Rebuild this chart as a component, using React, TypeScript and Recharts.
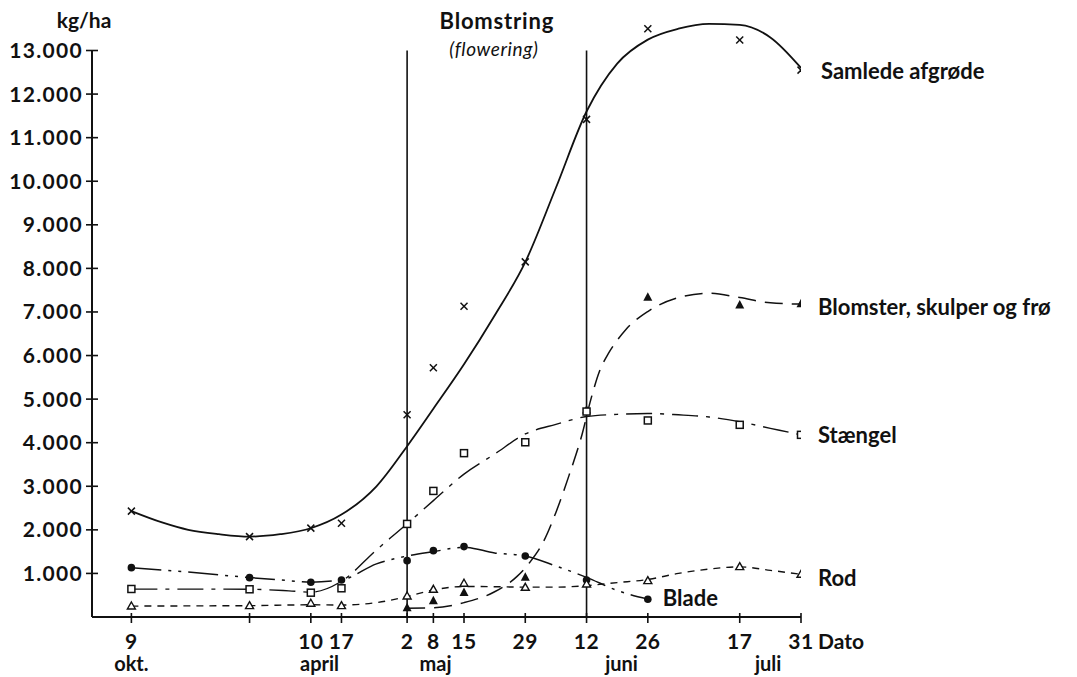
import React from "react";
import { ComposedChart, Line, XAxis, YAxis, ReferenceLine, ReferenceArea } from "recharts";

// x = days counted from 10 April (the winter is squeezed on the original axis)
const tickDays = [-41, -14, 0, 7, 22, 28, 35, 49, 63, 77, 98, 112];
const tickLabels = ["9", "", "10", "17", "2", "8", "15", "29", "12", "26", "17", "31"];
const monthDays = [-41, 2, 28.5, 71, 104.5];
const monthLabels = ["okt.", "april", "maj", "juni", "juli"];
const yTicks = [1000, 2000, 3000, 4000, 5000, 6000, 7000, 8000, 9000, 10000, 11000, 12000, 13000];
const xMin = -50;
const xMax = 112;
const yTop = 13000; // axis and flowering lines stop here, the total curve goes above it
const yRoom = 13700;
const flowerStart = 22;
const flowerEnd = 63;

// measured points
const samledeDays = [-41, -14, 0, 7, 22, 28, 35, 49, 63, 77, 98, 112];
const samledeValues = [2430, 1845, 2040, 2150, 4640, 5720, 7130, 8150, 11420, 13500, 13240, 12550];
const blomsterDays = [22, 28, 35, 49, 63, 77, 98, 112];
const blomsterValues = [210, 375, 560, 910, 4750, 7340, 7160, 7190];
const staengelDays = [-41, -14, 0, 7, 22, 28, 35, 49, 63, 77, 98, 112];
const staengelValues = [643, 636, 558, 659, 2136, 2893, 3760, 4010, 4715, 4510, 4410, 4180];
const bladeDays = [-41, -14, 0, 7, 22, 28, 35, 49, 63, 77];
const bladeValues = [1132, 903, 797, 850, 1293, 1523, 1615, 1400, 850, 406];
const rodDays = [-41, -14, 0, 7, 22, 28, 35, 49, 63, 77, 98, 112];
const rodValues = [253, 260, 315, 260, 482, 636, 774, 682, 758, 834, 1156, 980];

// hand-drawn fitted curves
const samledeCurveDays = [-41, -34, -28, -21, -14, -7, 0, 7, 15, 22, 28, 35, 42, 49, 56, 63, 70, 77, 84, 91, 98, 105, 112];
const samledeCurveValues = [2430, 2170, 2000, 1900, 1845, 1900, 2037, 2350, 3000, 3920, 4780, 5800, 6920, 8145, 9850, 11600, 12700, 13250, 13500, 13610, 13590, 13300, 12600];
const blomsterCurveDays = [22, 28, 35, 42, 47, 50, 53, 56, 59, 62, 64, 66, 68, 70, 72, 77, 84, 91, 98, 105, 112];
const blomsterCurveValues = [200, 210, 330, 580, 920, 1250, 1700, 2400, 3250, 4200, 5000, 5650, 6050, 6350, 6600, 7010, 7330, 7430, 7330, 7210, 7180];
const staengelCurveDays = [-41, -28, -14, -5, 0, 7, 15, 22, 28, 35, 42, 49, 56, 63, 70, 77, 84, 91, 98, 105, 112];
const staengelCurveValues = [640, 640, 636, 600, 570, 820, 1540, 2140, 2670, 3280, 3740, 4200, 4420, 4600, 4650, 4670, 4640, 4590, 4480, 4330, 4180];
const bladeCurveDays = [-41, -28, -14, -7, 0, 7, 15, 22, 28, 35, 42, 49, 56, 63, 70, 77];
const bladeCurveValues = [1130, 1030, 905, 850, 800, 850, 1220, 1400, 1500, 1600, 1470, 1400, 1170, 910, 610, 410];
const rodCurveDays = [-41, -28, -14, 0, 7, 15, 22, 28, 35, 42, 49, 56, 63, 70, 77, 84, 91, 98, 105, 112];
const rodCurveValues = [250, 255, 260, 280, 275, 330, 470, 620, 700, 695, 685, 685, 720, 790, 860, 1000, 1100, 1150, 1070, 980];

const zip = (days: number[], vals: number[]) => days.map((d, i) => ({ d, v: vals[i] }));

const FONT = "Lato, 'Open Sans', sans-serif";
const INK = "#111";

const fmt = (v: number) => `${Math.floor(v / 1000)}.${String(v % 1000).padStart(3, "0")}`;

const YTick = (p: any) => {
  const { x, y, payload } = p;
  return (
    <g>
      <line x1={x - 6} x2={x + 6} y1={y} y2={y} stroke={INK} strokeWidth={1.6} />
      <text x={x - 9} y={y + 7.5} textAnchor="end" fontFamily={FONT} fontWeight={700} fontSize={21} letterSpacing={1.3} fill={INK}>
        {fmt(payload.value)}
      </text>
    </g>
  );
};

const XTick = (p: any) => {
  const { x, y, index } = p;
  const last = index === tickDays.length - 1;
  return (
    <g>
      <line x1={x} x2={x} y1={y - 4} y2={y + 6} stroke={INK} strokeWidth={1.6} />
      <text x={x} y={y + 32} textAnchor="middle" fontFamily={FONT} fontWeight={700} fontSize={21} letterSpacing={0.5} fill={INK}>
        {tickLabels[index]}
      </text>
      {last && (
        <text x={x + 17} y={y + 32} fontFamily={FONT} fontWeight={700} fontSize={21} fill={INK}>
          Dato
        </text>
      )}
    </g>
  );
};

const MonthTick = (p: any) => {
  const { x, y, index } = p;
  return (
    <text x={x} y={y + 18} textAnchor="middle" fontFamily={FONT} fontWeight={700} fontSize={20} fill={INK}>
      {monthLabels[index]}
    </text>
  );
};

const cross = (p: any) => {
  const { cx, cy, index } = p;
  const s = 3.5;
  return (
    <g key={index}>
      <line x1={cx - s} y1={cy - s} x2={cx + s} y2={cy + s} stroke={INK} strokeWidth={1.5} />
      <line x1={cx - s} y1={cy + s} x2={cx + s} y2={cy - s} stroke={INK} strokeWidth={1.5} />
    </g>
  );
};
const triFilled = (p: any) => {
  const { cx, cy, index } = p;
  return <path key={index} d={`M${cx},${cy - 5} L${cx + 4.5},${cy + 3.5} L${cx - 4.5},${cy + 3.5} Z`} fill={INK} />;
};
const triOpen = (p: any) => {
  const { cx, cy, index } = p;
  return <path key={index} d={`M${cx},${cy - 4} L${cx + 4},${cy + 3} L${cx - 4},${cy + 3} Z`} fill="#fff" stroke={INK} strokeWidth={1.4} />;
};
const square = (p: any) => {
  const { cx, cy, index } = p;
  return <rect key={index} x={cx - 3.5} y={cy - 3.5} width={7} height={7} fill="#fff" stroke={INK} strokeWidth={1.5} />;
};
const dotFilled = (p: any) => {
  const { cx, cy, index } = p;
  return <circle key={index} cx={cx} cy={cy} r={3.8} fill={INK} />;
};

const endLabel = (text: string, count: number, dx: number, dy: number) => (p: any) => {
  const { x, y, index } = p;
  if (index !== count - 1) return null;
  return (
    <text key="lbl" x={x + dx} y={y + dy} fontFamily={FONT} fontWeight={700} fontSize={22} fill={INK}>
      {text}
    </text>
  );
};

const FloweringLabel = (p: any) => {
  const { viewBox } = p;
  const cx = viewBox.x + viewBox.width / 2;
  return (
    <g>
      <text x={cx} y={viewBox.y - 21.5} textAnchor="middle" fontFamily={FONT} fontWeight={700} fontSize={22} letterSpacing={0.8} fill={INK}>
        Blomstring
      </text>
      <text x={cx - 3} y={viewBox.y + 5.5} textAnchor="middle" fontFamily={FONT} fontStyle="italic" fontWeight={400} fontSize={19} letterSpacing={0.6} fill={INK}>
        (flowering)
      </text>
    </g>
  );
};

const UnitLabel = (p: any) => {
  const { viewBox } = p;
  return (
    <text x={viewBox.x + viewBox.width - 8} y={viewBox.y + 8} textAnchor="middle" fontFamily={FONT} fontWeight={700} fontSize={21} fill={INK}>
      kg/ha
    </text>
  );
};

export default function App() {
  return (
    <div style={{ position: "absolute", left: 0, top: 0, background: "#fff" }}>
      <ComposedChart width={1077} height={677} margin={{ top: 20, right: 276, bottom: 0, left: 0 }}>
        <XAxis
          xAxisId={0}
          type="number"
          dataKey="d"
          domain={[xMin, xMax]}
          ticks={tickDays}
          interval={0}
          tick={XTick}
          tickSize={0}
          tickMargin={0}
          height={36}
          axisLine={{ stroke: INK, strokeWidth: 2 }}
          allowDataOverflow
        />
        <XAxis
          xAxisId="m"
          type="number"
          dataKey="d"
          domain={[xMin, xMax]}
          ticks={monthDays}
          interval={0}
          tick={MonthTick}
          tickSize={0}
          tickMargin={0}
          height={24}
          axisLine={false}
          allowDataOverflow
        />
        <YAxis
          type="number"
          domain={[0, yRoom]}
          ticks={yTicks}
          interval={0}
          tick={YTick}
          tickSize={0}
          tickMargin={0}
          width={92}
          axisLine={false}
          allowDataOverflow
          label={<UnitLabel />}
        />
        <ReferenceLine segment={[{ x: xMin, y: 0 }, { x: xMin, y: yTop }]} stroke={INK} strokeWidth={2} />
        <ReferenceArea x1={flowerStart} x2={flowerEnd} y1={0} y2={yTop} fill="none" stroke="none" label={<FloweringLabel />} />
        <ReferenceLine segment={[{ x: flowerStart, y: 0 }, { x: flowerStart, y: yTop }]} stroke={INK} strokeWidth={1.6} />
        <ReferenceLine segment={[{ x: flowerEnd, y: 0 }, { x: flowerEnd, y: yTop }]} stroke={INK} strokeWidth={1.6} />

        <Line data={zip(samledeCurveDays, samledeCurveValues)} dataKey="v" type="monotone" stroke={INK} strokeWidth={1.8} dot={false} activeDot={false} isAnimationActive={false} />
        <Line data={zip(blomsterCurveDays, blomsterCurveValues)} dataKey="v" type="monotone" stroke={INK} strokeWidth={1.5} strokeDasharray="18 9" dot={false} activeDot={false} isAnimationActive={false} />
        <Line data={zip(staengelCurveDays, staengelCurveValues)} dataKey="v" type="monotone" stroke={INK} strokeWidth={1.4} strokeDasharray="26 8 4 8" dot={false} activeDot={false} isAnimationActive={false} />
        <Line data={zip(bladeCurveDays, bladeCurveValues)} dataKey="v" type="monotone" stroke={INK} strokeWidth={1.5} strokeDasharray="30 7 3 7 3 7" dot={false} activeDot={false} isAnimationActive={false} />
        <Line data={zip(rodCurveDays, rodCurveValues)} dataKey="v" type="monotone" stroke={INK} strokeWidth={1.4} strokeDasharray="7 6" dot={false} activeDot={false} isAnimationActive={false} />

        <Line data={zip(samledeDays, samledeValues)} dataKey="v" stroke="none" dot={cross} activeDot={false} isAnimationActive={false}
          label={endLabel("Samlede afgrøde", samledeDays.length, 20, 9)} />
        <Line data={zip(blomsterDays, blomsterValues)} dataKey="v" stroke="none" dot={triFilled} activeDot={false} isAnimationActive={false}
          label={endLabel("Blomster, skulper og frø", blomsterDays.length, 17, 11)} />
        <Line data={zip(staengelDays, staengelValues)} dataKey="v" stroke="none" dot={square} activeDot={false} isAnimationActive={false}
          label={endLabel("Stængel", staengelDays.length, 17, 8)} />
        <Line data={zip(bladeDays, bladeValues)} dataKey="v" stroke="none" dot={dotFilled} activeDot={false} isAnimationActive={false}
          label={endLabel("Blade", bladeDays.length, 15, 7)} />
        <Line data={zip(rodDays, rodValues)} dataKey="v" stroke="none" dot={triOpen} activeDot={false} isAnimationActive={false}
          label={endLabel("Rod", rodDays.length, 17, 12)} />
      </ComposedChart>
    </div>
  );
}
